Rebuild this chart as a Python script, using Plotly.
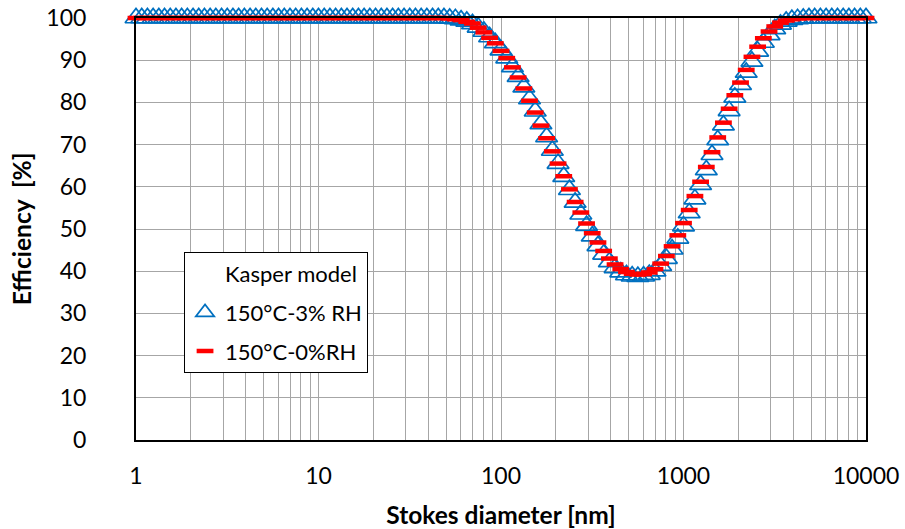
import plotly.graph_objects as go

# Stokes diameter [nm] (log-spaced sampling, 32 points per decade)
diameter_nm = [
    1.000, 1.075, 1.155, 1.241, 1.334, 1.433, 1.540, 1.655, 1.778, 1.911, 2.054, 2.207, 2.371, 2.548, 2.738, 2.943,
    3.162, 3.398, 3.652, 3.924, 4.217, 4.532, 4.870, 5.233, 5.623, 6.043, 6.494, 6.978, 7.499, 8.058, 8.660, 9.306,
    10.00, 10.75, 11.55, 12.41, 13.34, 14.33, 15.40, 16.55, 17.78, 19.11, 20.54, 22.07, 23.71, 25.48, 27.38, 29.43,
    31.62, 33.98, 36.52, 39.24, 42.17, 45.32, 48.70, 52.33, 56.23, 60.43, 64.94, 69.78, 74.99, 80.58, 86.60, 93.06,
    100.0, 107.5, 115.5, 124.1, 133.4, 143.3, 154.0, 165.5, 177.8, 191.1, 205.4, 220.7, 237.1, 254.8, 273.8, 294.3,
    316.2, 339.8, 365.2, 392.4, 421.7, 453.2, 487.0, 523.3, 562.3, 604.3, 649.4, 697.8, 749.9, 805.8, 866.0, 930.6,
    1000.0, 1074.6, 1154.8, 1240.9, 1333.5, 1433.0, 1539.9, 1654.8, 1778.3, 1911.0, 2053.5, 2206.7, 2371.4, 2548.3, 2738.4, 2942.7,
    3162.3, 3398.2, 3651.7, 3924.2, 4217.0, 4531.6, 4869.7, 5233.0, 5623.4, 6043.0, 6493.8, 6978.3, 7498.9, 8058.4, 8659.6, 9305.7,
    10000.0,
]

# Efficiency [%] - 150°C-3% RH (Kasper model)
eff_3rh = [
    100, 100, 100, 100, 100, 100, 100, 100, 100, 100, 100, 100, 100, 100, 100, 100,
    100, 100, 100, 100, 100, 100, 100, 100, 100, 100, 100, 100, 100, 100, 100, 100,
    100, 100, 100, 100, 100, 100, 100, 100, 100, 100, 100, 100, 100, 100, 100, 100,
    100, 100, 100, 100, 100, 100, 100, 99.9, 99.8, 99.5, 99.2, 98.6, 97.8, 96.8, 95.5, 94.1,
    92.4, 90.5, 88.4, 86.1, 83.6, 80.8, 77.9, 74.9, 71.8, 68.6, 65.5, 62.4, 59.3, 56.3, 53.5, 50.8,
    48.3, 46.0, 44.0, 42.2, 40.8, 39.8, 39.1, 38.8, 38.7, 38.8, 39.2, 40.0, 41.3, 43.0, 45.2, 47.8,
    50.7, 53.8, 57.1, 60.5, 64.0, 67.6, 71.1, 74.6, 78.0, 81.2, 84.2, 87.1, 89.7, 92.1, 94.2, 96.0,
    97.4, 98.5, 99.2, 99.6, 99.8, 99.9, 100, 100, 100, 100, 100, 100, 100, 100, 100, 100,
    100,
]

# Efficiency [%] - 150°C-0%RH (Kasper model)
eff_0rh = [
    100, 100, 100, 100, 100, 100, 100, 100, 100, 100, 100, 100, 100, 100, 100, 100,
    100, 100, 100, 100, 100, 100, 100, 100, 100, 100, 100, 100, 100, 100, 100, 100,
    100, 100, 100, 100, 100, 100, 100, 100, 100, 100, 100, 100, 100, 100, 100, 100,
    100, 100, 100, 100, 100, 100, 100, 99.9, 99.7, 99.5, 99.1, 98.7, 97.7, 96.6, 95.3, 94.0,
    92.2, 90.5, 88.3, 85.9, 83.3, 80.4, 77.6, 74.5, 71.5, 68.4, 65.5, 62.5, 59.4, 56.4, 53.9, 51.3,
    49.0, 46.8, 44.8, 43.0, 41.6, 40.5, 39.8, 39.4, 39.2, 39.3, 39.7, 40.5, 41.8, 43.6, 45.9, 48.5,
    51.4, 54.5, 57.8, 61.2, 64.7, 68.2, 71.7, 75.2, 78.5, 81.7, 84.7, 87.7, 90.8, 93.2, 95.2, 96.8,
    98.0, 98.9, 99.4, 99.7, 99.9, 100, 100, 100, 100, 100, 100, 100, 100, 100, 100, 100,
    100,
]

legend_heading = "Kasper model"
x_tick_vals = [1, 10, 100, 1000, 10000]
x_tick_text = ["1", "10", "100", "1000", "10000"]
x_minor_vals = [m * d for d in (1, 10, 100, 1000) for m in range(2, 10)]
y_tick_vals = [0, 10, 20, 30, 40, 50, 60, 70, 80, 90, 100]

FONT = "Lato"
GRID = "#A6A6A6"

fig = go.Figure()
# legend heading row (no marker), aligned with the entry texts
fig.add_trace(go.Scatter(
    x=[None], y=[None], mode="markers", name=legend_heading,
    legendgroup="0", showlegend=True, hoverinfo="skip",
    marker=dict(size=1, opacity=0, color="white"),
))
fig.add_trace(go.Scatter(
    x=diameter_nm, y=eff_3rh, mode="markers", name="150°C-3% RH",
    legendgroup="a", cliponaxis=False,
    marker=dict(symbol="triangle-up-open", size=19, color="#0070C0",
                line=dict(color="#0070C0", width=1.7)),
))
fig.add_trace(go.Scatter(
    x=diameter_nm, y=eff_0rh, mode="markers", name="150°C-0%RH",
    legendgroup="b", cliponaxis=False,
    marker=dict(symbol="line-ew", size=12, color="#FF0000",
                line=dict(color="#FF0000", width=4.5)),
))

fig.update_layout(
    width=905, height=529,
    margin=dict(l=136, r=39, t=18, b=89),
    paper_bgcolor="white", plot_bgcolor="white",
    font=dict(family=FONT, color="black", size=23),
    showlegend=True,
    legend=dict(
        x=0.0658, y=0.4455, xanchor="left", yanchor="top",
        bgcolor="white", bordercolor="black", borderwidth=1,
        font=dict(family=FONT, size=22, color="black"),
        tracegroupgap=7,
        itemwidth=30,
        traceorder="grouped",
    ),
    xaxis=dict(
        type="log", range=[0, 4], automargin=False,
        tickmode="array", tickvals=x_tick_vals, ticktext=x_tick_text,
        ticks="", ticklabelstandoff=14,
        showgrid=True, gridcolor=GRID, gridwidth=1.3,
        minor=dict(tickmode="array", tickvals=x_minor_vals, showgrid=True,
                   gridcolor=GRID, gridwidth=1.3, ticks=""),
        showline=True, mirror=True, linecolor="black", linewidth=2,
        zeroline=False,
        tickfont=dict(family=FONT, size=23, color="black"),
        title=dict(text="<b>Stokes diameter [nm]</b>", standoff=20,
                   font=dict(family=FONT, size=24.5, color="black")),
    ),
    yaxis=dict(
        range=[0, 100], automargin=False,
        tickmode="array", tickvals=y_tick_vals,
        ticks="", ticklabelstandoff=43,
        showgrid=True, gridcolor=GRID, gridwidth=1.3,
        showline=True, mirror=True, linecolor="black", linewidth=2,
        zeroline=False,
        tickfont=dict(family=FONT, size=23, color="black"),
        title=dict(text="<b>Efficiency  [%]</b>", standoff=8,
                   font=dict(family=FONT, size=24.5, color="black")),
    ),
)

fig.write_html("out.html", config={"displayModeBar": False},
               post_script="document.body.style.margin='0';")
